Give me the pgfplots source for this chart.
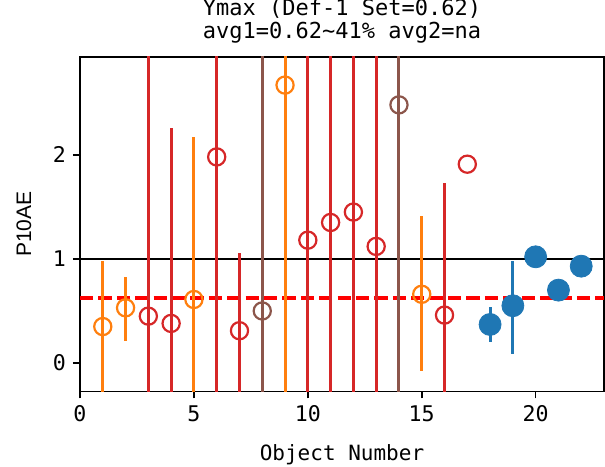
\documentclass[border=0pt]{standalone}
\usepackage{fontspec}
\setmainfont{DejaVu Sans Mono}
\newfontfamily\labelfont{Liberation Sans}
\usepackage{pgfplots}
\pgfplotsset{compat=1.18}
\definecolor{tabblue}{HTML}{1F77B4}
\definecolor{taborange}{HTML}{FF7F0E}
\definecolor{tabred}{HTML}{D62728}
\definecolor{tabbrown}{HTML}{8C564B}
\pgfplotstableread{
x y ep em
1 0.35 0.63 5
2 0.53 0.30 0.32
5 0.61 1.56 5
9 2.67 5 5
15 0.66 0.75 0.74
}\orangedata
\pgfplotstableread{
x y ep em
3 0.45 5 5
4 0.38 1.88 5
6 1.98 5 5
7 0.31 0.75 5
10 1.18 5 5
11 1.35 5 5
12 1.45 5 5
13 1.12 5 5
16 0.46 1.27 5
17 1.91 0 0
}\reddata
\pgfplotstableread{
x y ep em
8 0.50 5 5
14 2.48 5 5
}\browndata
\pgfplotstableread{
x y ep em
18 0.37 0.17 0.17
19 0.55 0.43 0.46
20 1.02 0 0
21 0.70 0 0
22 0.93 0 0
}\bluedata
\begin{document}
\begin{tikzpicture}
\begin{axis}[
  at={(0,0)}, anchor=south west,
  scale only axis, width=262pt, height=167.25pt,
  xmin=0, xmax=23, ymin=-0.274, ymax=2.94,
  xtick={0,5,10,15,20}, ytick={0,1,2},
  xtick pos=bottom, ytick pos=left,
  tick align=outside,
  major tick length=3.5pt,
  every tick/.style={black, line width=0.8pt},
  axis line style={line width=0.8pt},
  /pgf/number format/assume math mode=true,
  ticklabel style={font=\fontsize{10.8}{12}\selectfont},
  xlabel={Object Number}, ylabel={P10AE},
  every axis x label/.style={at={(axis description cs:0.5,-0.2048)}, anchor=base, font=\fontsize{10.5}{12}\selectfont},
  every axis y label/.style={at={(axis description cs:-0.107,0.5)}, anchor=center, rotate=90, font=\labelfont\fontsize{10.5}{12}\selectfont},
]
\addplot[black, line width=1.2pt, forget plot] coordinates {(0,1) (23,1)};
\addplot[red, line width=2pt, dash pattern=on 6.6pt off 2.6pt, forget plot] coordinates {(0,0.62) (23,0.62)};
\addplot[only marks, mark=o, mark size=4.3pt, color=taborange, mark options={line width=1.1pt},
  error bars/.cd, y dir=both, y explicit, error mark=none,
  error bar style={line width=1.5pt, taborange}]
  table[x=x, y=y, y error plus=ep, y error minus=em] {\orangedata};
\addplot[only marks, mark=o, mark size=4.3pt, color=tabred, mark options={line width=1.1pt},
  error bars/.cd, y dir=both, y explicit, error mark=none,
  error bar style={line width=1.5pt, tabred}]
  table[x=x, y=y, y error plus=ep, y error minus=em] {\reddata};
\addplot[only marks, mark=o, mark size=4.3pt, color=tabbrown, mark options={line width=1.1pt},
  error bars/.cd, y dir=both, y explicit, error mark=none,
  error bar style={line width=1.5pt, tabbrown}]
  table[x=x, y=y, y error plus=ep, y error minus=em] {\browndata};
\addplot[only marks, mark=*, mark size=5.5pt, color=tabblue, mark options={draw=none, fill=tabblue},
  error bars/.cd, y dir=both, y explicit, error mark=none,
  error bar style={line width=1.5pt, tabblue}]
  table[x=x, y=y, y error plus=ep, y error minus=em] {\bluedata};
\end{axis}
\node[anchor=base, font=\fontsize{11}{13}\selectfont] at (131pt,187.8pt) {Ymax (Def-1 Set=0.62)};
\node[anchor=base, font=\fontsize{11}{13}\selectfont] at (131pt,176.6pt) {avg1=0.62\textasciitilde41\% avg2=na};
\pgfresetboundingbox
\useasboundingbox (-40pt,-37.25pt) rectangle (262.5pt,195.75pt);
\end{tikzpicture}
\end{document}
